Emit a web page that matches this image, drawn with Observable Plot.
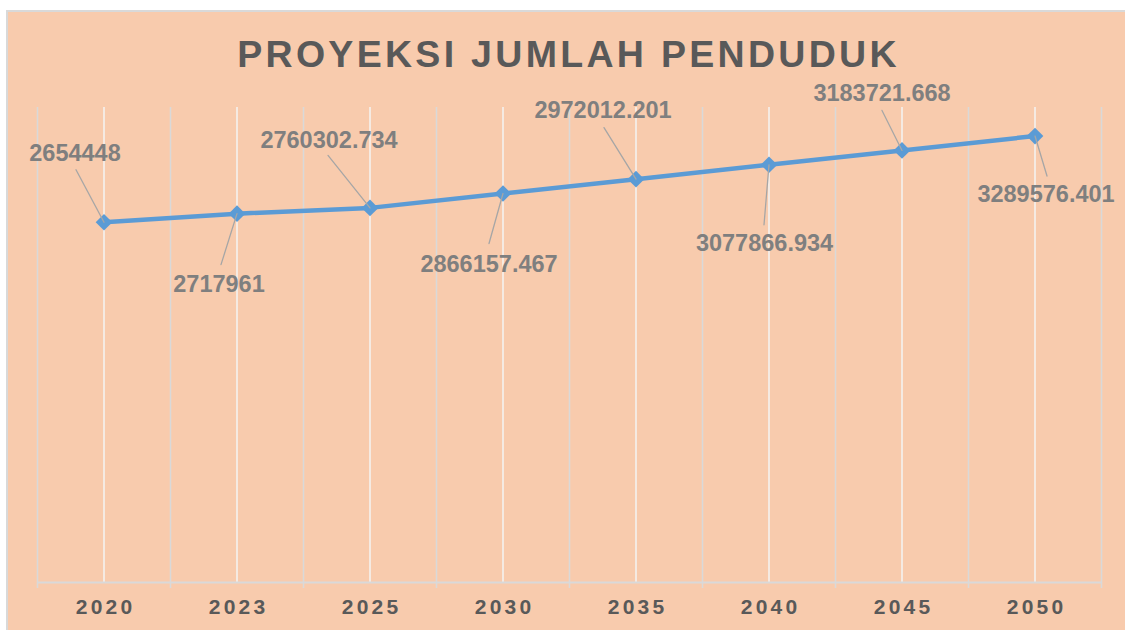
<!DOCTYPE html>
<html>
<head>
<meta charset="utf-8">
<script src="https://cdn.jsdelivr.net/npm/d3@7"></script>
<script src="https://cdn.jsdelivr.net/npm/@observablehq/plot@0.6"></script>
<style>
  body { margin: 0; background: #ffffff; width: 1125px; height: 630px; overflow: hidden; font-family: "Liberation Sans", Arial, sans-serif; }
  #frame { position: absolute; left: 6px; top: 10px; width: 1119px; height: 620px; border-left: 2px solid #d9d9d9; border-top: 2px solid #d9d9d9; background: #F8CBAD; overflow: hidden; }
  #title { position: absolute; left: 0; top: 23.8px; width: 1117px; padding-left: 4px; box-sizing: border-box; text-align: center; font-size: 37.5px; line-height: 37px; font-weight: bold; color: #595959; letter-spacing: 3.3px; white-space: nowrap; }
  #chart { position: absolute; left: 0; top: 64px; }
  .xlab text { letter-spacing: 3.3px; }
</style>
</head>
<body>
<div id="frame">
  <div id="title">PROYEKSI JUMLAH PENDUDUK</div>
  <div id="chart"></div>
</div>
<script>
// ---- data ----
const years = ["2020", "2023", "2025", "2030", "2035", "2040", "2045", "2050"];
const population = [2654448, 2717961, 2760302.734, 2866157.467, 2972012.201, 3077866.934, 3183721.668, 3289576.401];

// ---- layout: label centre and leader end, pixel offsets from each point ----
const labelOffset = [[-29, -68.5], [-18, 70.5], [-41, -67.5], [-14, 70.5], [-33, -68.5], [-4.5, 79], [-20, -56.5], [11, 58]];
const leaderEnd = [[-28, -52.5], [-16, 51], [-42, -52.5], [-14, 50], [-32, -51.5], [-5, 60], [-20, -40], [12, 40]];

const data = years.map((year, i) => ({i, year, value: population[i]}));
const cx = d => d.i + 0.5;

const leaderShape = {
  draw(context, l) { context.moveTo(0, 0); context.lineTo(0, -l); }
};

const chart = Plot.plot({
  width: 1117,
  height: 554,
  marginTop: 31,
  marginBottom: 48,
  marginLeft: 29,
  marginRight: 24,
  style: {background: "transparent", fontFamily: "'Liberation Sans', Arial, sans-serif", overflow: "visible"},
  x: {type: "linear", domain: [0, years.length], axis: null},
  y: {domain: [0, 3500000], axis: null},
  length: {type: "identity"},
  marks: [
    Plot.ruleX(d3.range(years.length + 1), {stroke: "#d9d9d9", strokeWidth: 1.5, insetBottom: -6}),
    Plot.ruleX(data, {x: cx, stroke: "#f4f4f4", strokeWidth: 1.5}),
    Plot.ruleY([0], {stroke: "#d9d9d9", strokeWidth: 2}),
    Plot.text(data, {x: cx, text: "year", frameAnchor: "bottom", dy: 31, dx: 1.6, fontSize: 21, fontWeight: "bold", fill: "#595959", className: "xlab"}),
    Plot.line(data, {x: cx, y: "value", stroke: "#5B9BD5", strokeWidth: 4.5}),
    Plot.dot(data, {x: cx, y: "value", symbol: "diamond2", r: 7.5, fill: "#5B9BD5", stroke: "none"}),
    Plot.vector(data, {
      x: cx, y: "value",
      length: d => Math.hypot(leaderEnd[d.i][0], leaderEnd[d.i][1]),
      rotate: d => Math.atan2(leaderEnd[d.i][0], -leaderEnd[d.i][1]) * 180 / Math.PI,
      anchor: "start", shape: leaderShape, stroke: "#a6a6a6", strokeWidth: 1.3
    }),
    ...data.map(d => Plot.text([d], {
      x: cx, y: "value", text: v => String(v.value),
      dx: labelOffset[d.i][0], dy: labelOffset[d.i][1],
      fontSize: 23.5, fontWeight: "bold", fill: "#7f7f7f"
    }))
  ]
});
document.getElementById("chart").append(chart);
</script>
</body>
</html>
